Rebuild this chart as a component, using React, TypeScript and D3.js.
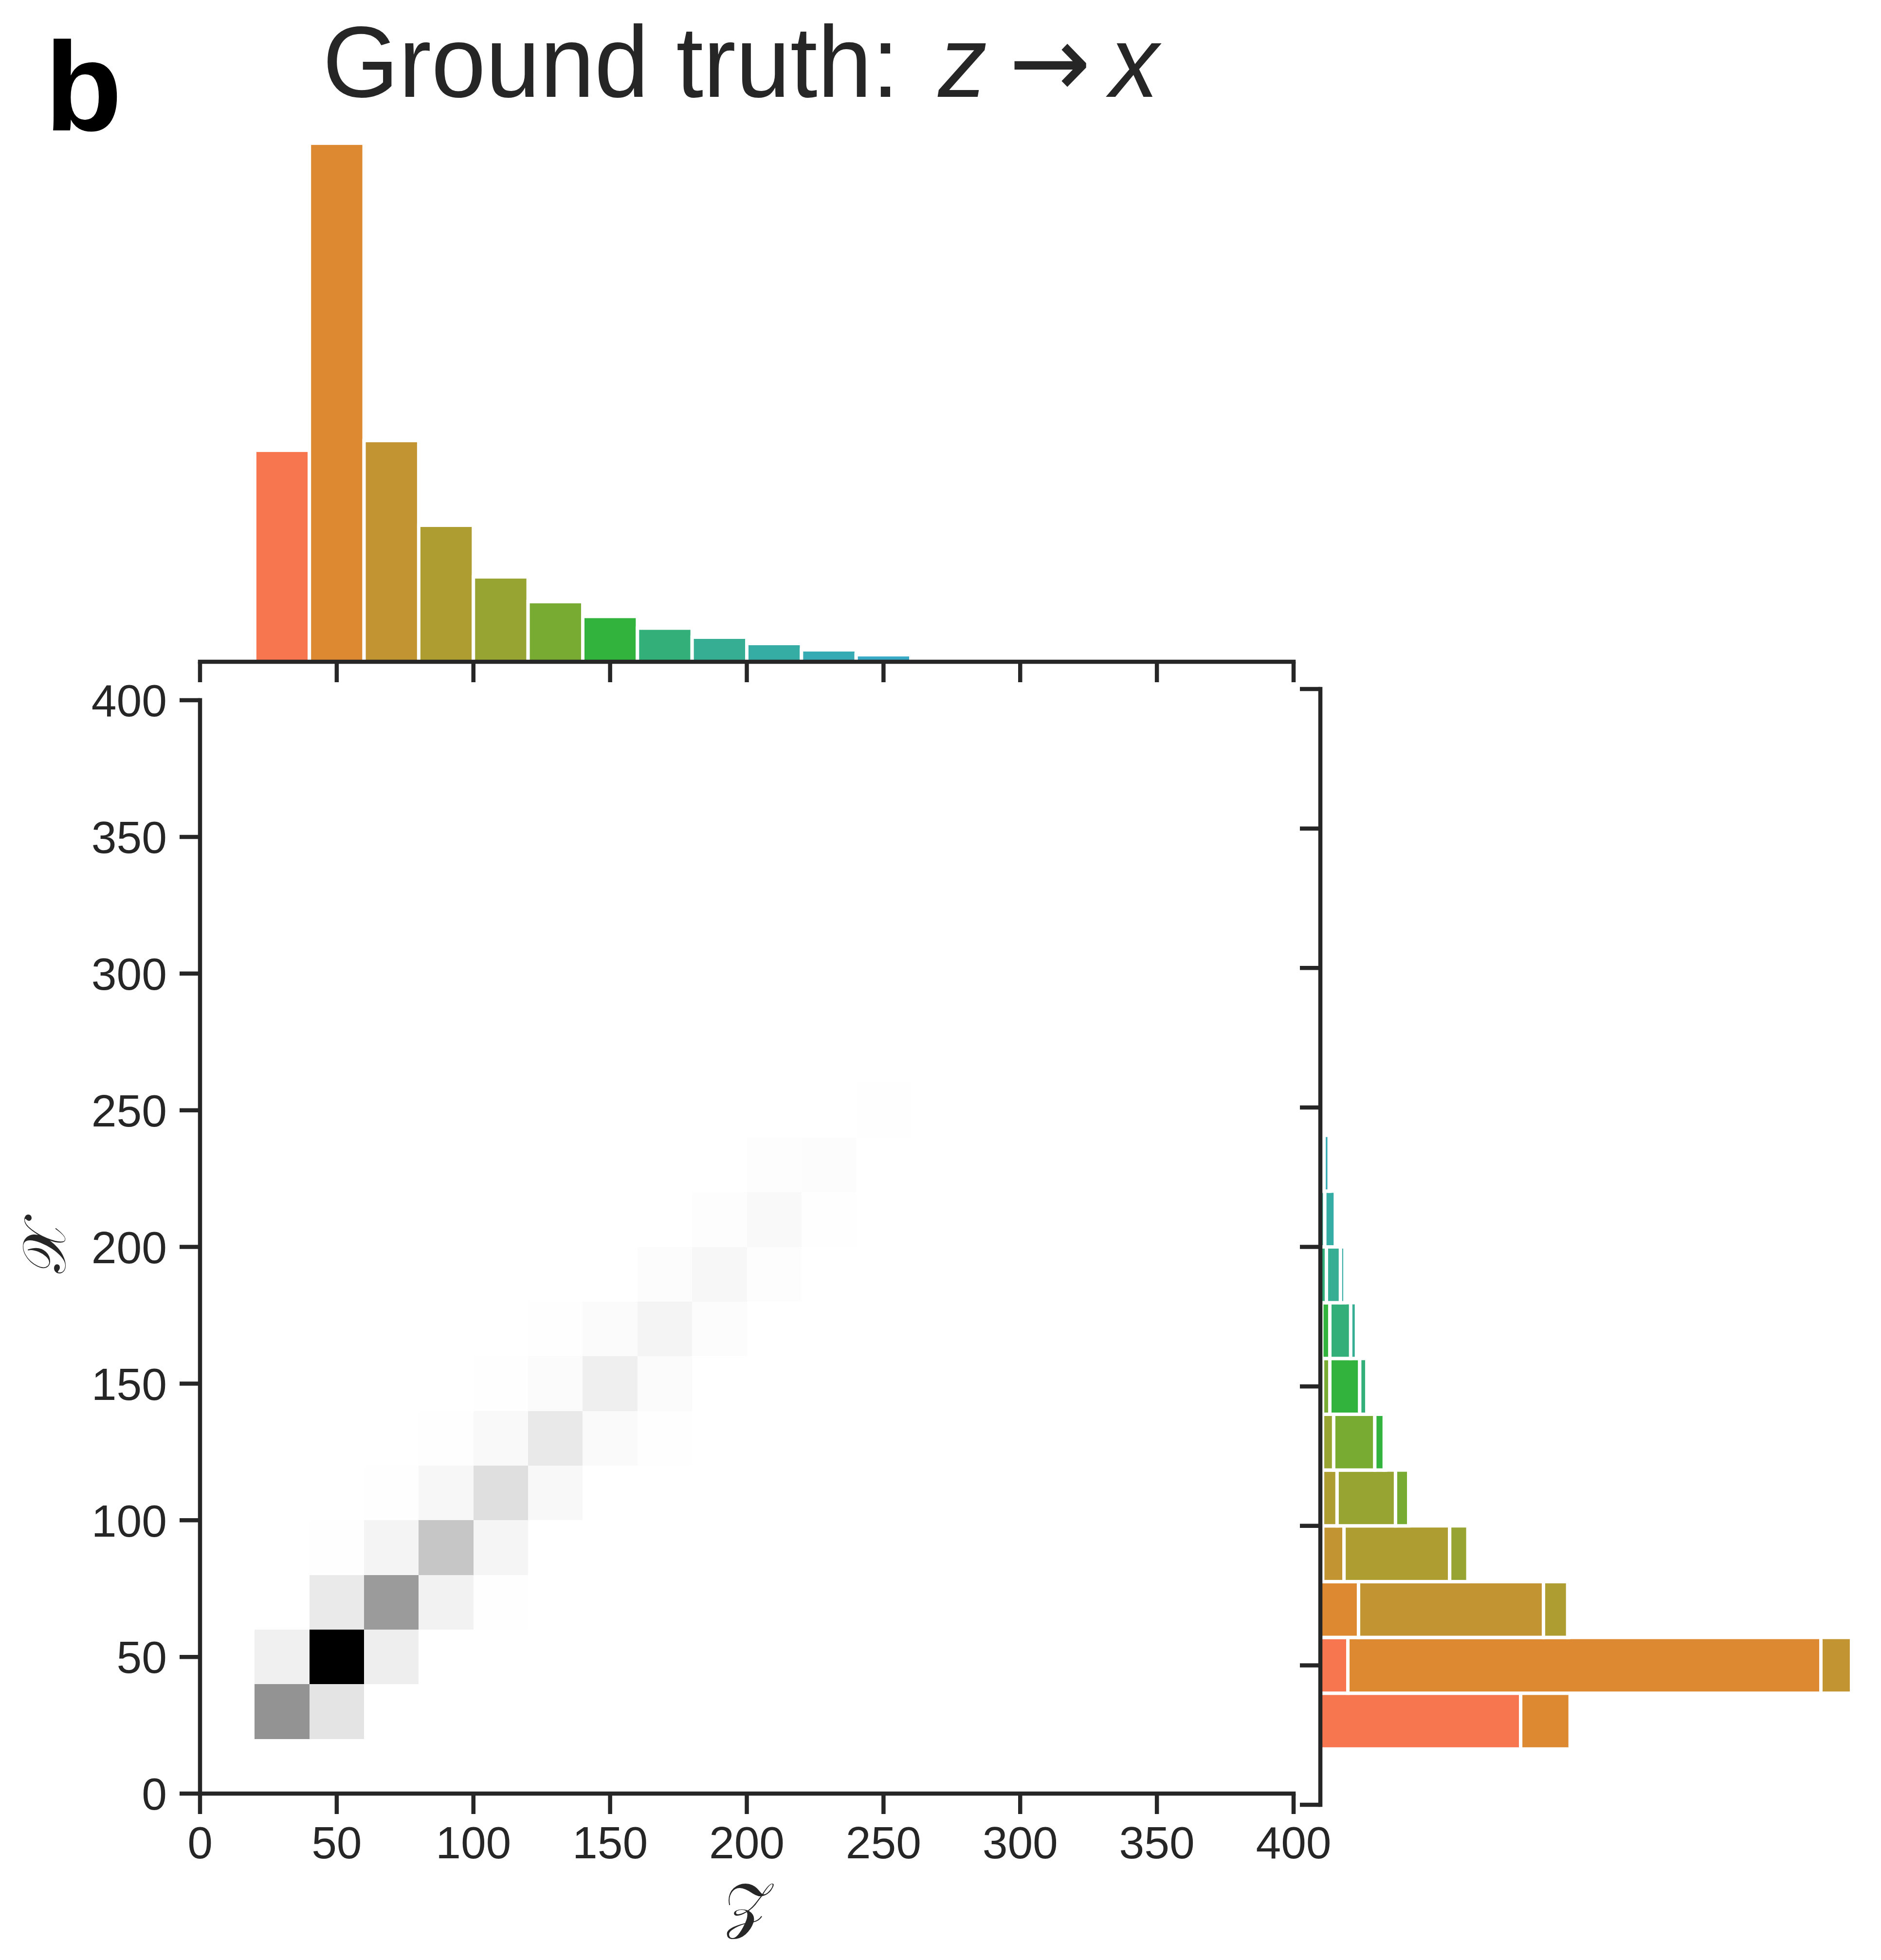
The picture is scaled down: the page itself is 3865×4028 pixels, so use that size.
import React from 'react'
import * as d3 from 'd3'

// histogram bins (width 20) that hold any mass
const binStarts = [20, 40, 60, 80, 100, 120, 140, 160, 180, 200, 220, 240]
const binWidth = 20
const axisTicks = [0, 50, 100, 150, 200, 250, 300, 350, 400]
const tickLabels = ['0', '50', '100', '150', '200', '250', '300', '350', '400']

// top marginal: counts per z bin
const zCounts = [154.0, 377.6, 161.1, 99.4, 61.8, 43.8, 33.0, 24.5, 17.9, 13.3, 8.7, 5.1]

// joint counts, one row per x bin (20-40 first), one column per z bin
const joint = [
    [135.4, 33.4, 0, 0, 0, 0, 0, 0, 0, 0, 0, 0],
    [18.6, 319.7, 20.7, 0, 0, 0, 0, 0, 0, 0, 0, 0],
    [0, 25.8, 125.0, 16.4, 0.8, 0, 0, 0, 0, 0, 0, 0],
    [0, 1.6, 14.4, 71.4, 12.3, 0, 0, 0, 0, 0, 0, 0],
    [0, 0, 1.5, 9.8, 39.5, 8.9, 0, 0, 0, 0, 0, 0],
    [0, 0, 0, 1.5, 7.5, 27.8, 6.4, 1.0, 0, 0, 0, 0],
    [0, 0, 0, 0, 1.5, 4.9, 20.2, 4.8, 0, 0, 0, 0],
    [0, 0, 0, 0, 0, 1.0, 5.4, 14.1, 3.9, 0, 0, 0],
    [0, 0, 0, 0, 0, 0, 0, 4.1, 9.5, 3.0, 0, 0],
    [0, 0, 0, 0, 0, 0, 0, 0, 3.0, 7.2, 1.3, 0],
    [0, 0, 0, 0, 0, 0, 0, 0, 0, 2.5, 3.5, 0.5],
    [0, 0, 0, 0, 0, 0, 0, 0, 0, 0, 0.6, 0.8],
]

const W = 3865
const H = 4028
const ink = '#262626'
const lw = 8.5
const tickLen = 42
const fontSans = '"Liberation Sans", Arial, Helvetica, sans-serif'

// seaborn style husl palette (old husl conversion)
const M = [[3.2406, -1.5372, -0.4986], [-0.9689, 1.8758, 0.0415], [0.0557, -0.2040, 1.0570]]
const refU = 0.19783940212
const refV = 0.46834220638

const maxChroma = (L: number, Hd: number) => {
    const hrad = Hd / 180 * Math.PI
    const sinH = Math.sin(hrad)
    const cosH = Math.cos(hrad)
    const sub1 = Math.pow(L + 16, 3) / 1560896
    const sub2 = sub1 > 0.008856 ? sub1 : L / 903.3
    let result = Infinity
    for (const [m1, m2, m3] of M) {
        const top = (0.99915 * m1 + 1.05122 * m2 + 1.14460 * m3) * sub2
        const rbottom = 0.86330 * m3 - 0.17266 * m2
        const lbottom = 0.12949 * m3 - 0.38848 * m1
        const bottom = (rbottom * sinH + lbottom * cosH) * sub2
        for (const t of [0, 1]) {
            const C = L * (top - 1.05122 * t) / (bottom + 0.17266 * sinH * t)
            if (C > 0 && C < result) result = C
        }
    }
    return result
}

const huslToHex = (Hd: number, S: number, L: number) => {
    const C = maxChroma(L, Hd) / 100 * S
    const hrad = Hd / 180 * Math.PI
    const U = Math.cos(hrad) * C
    const V = Math.sin(hrad) * C
    const t = (L + 16) / 116
    const Y = Math.pow(t, 3) > 0.008856 ? Math.pow(t, 3) : (116 * t - 16) / 903.3
    const varU = U / (13 * L) + refU
    const varV = V / (13 * L) + refV
    const X = -(9 * Y * varU) / ((varU - 4) * varV - varU * varV)
    const Z = (9 * Y - 15 * varV * Y - varV * X) / (3 * varV)
    const rgb = M.map(r => r[0] * X + r[1] * Y + r[2] * Z)
        .map(c => (c <= 0.0031308 ? 12.92 * c : 1.055 * Math.pow(c, 1 / 2.4) - 0.055))
        .map(c => Math.max(0, Math.min(1, c)) * 255)
    return d3.rgb(rgb[0], rgb[1], rgb[2]).formatHex()
}

// 20 colours over 0..400, one per bin of width 20
const binColor = (start: number) => {
    const k = start / binWidth
    const hue = ((k / 20 + 0.01) % 1) * 359
    return huslToHex(hue, 0.9 * 99, 0.65 * 99)
}

const App = () => {
    // main joint axes
    const x = d3.scaleLinear().domain([0, 400]).range([411, 2658])
    const y = d3.scaleLinear().domain([0, 400]).range([3686, 1439])

    // top marginal
    const topBase = 1360
    const topY = d3.scaleLinear().domain([0, 1.05 * d3.max(zCounts)!]).range([topBase, topBase - 1119])

    // right marginal
    const rightLeft = 2713
    const rowTotals = joint.map(r => d3.sum(r))
    const rY = d3.scaleLinear().domain([0, 400]).range([3709, 1416])
    const rX = d3.scaleLinear().domain([0, 1.05 * d3.max(rowTotals)!]).range([rightLeft, rightLeft + 1146])

    const maxJoint = d3.max(joint.flat())!
    const grey = d3.scaleLinear<string>().domain([0, maxJoint]).range(['#ffffff', '#000000'])

    const keys = binStarts.map((_, j) => j)
    const rows = joint.map(r => {
        const o: { [k: number]: number } = {}
        r.forEach((v, j) => { o[j] = v })
        return o
    })
    const stacked = d3.stack<{ [k: number]: number }, number>().keys(keys)(rows)

    const tickFs = 93

    return (
        <svg width={W} height={H} style={{ position: 'absolute', left: 0, top: 0, background: '#fff' }}>
            <rect x={0} y={0} width={W} height={H} fill="#fff" />

            {/* heatmap */}
            <g shapeRendering="crispEdges">
                {joint.map((r, i) => r.map((v, j) => v > 0 ? (
                    <rect key={`c-${i}-${j}`}
                          x={x(binStarts[j])}
                          y={y(binStarts[i] + binWidth)}
                          width={x(binStarts[j] + binWidth) - x(binStarts[j])}
                          height={y(binStarts[i]) - y(binStarts[i] + binWidth)}
                          fill={grey(v)} />
                ) : null))}
            </g>

            {/* top marginal histogram */}
            <g>
                {zCounts.map((c, j) => (
                    <rect key={`t-${j}`}
                          x={x(binStarts[j])}
                          y={topY(c)}
                          width={x(binStarts[j] + binWidth) - x(binStarts[j])}
                          height={topY(0) - topY(c)}
                          fill={binColor(binStarts[j])}
                          stroke="#fff" strokeWidth={7} />
                ))}
            </g>

            {/* right marginal, stacked by z bin */}
            <g>
                {stacked.map((layer, j) => layer.map((d, i) => d[1] - d[0] > 0 ? (
                    <rect key={`r-${j}-${i}`}
                          x={rX(d[0])}
                          y={rY(binStarts[i] + binWidth)}
                          width={rX(d[1]) - rX(d[0])}
                          height={rY(binStarts[i]) - rY(binStarts[i] + binWidth)}
                          fill={binColor(binStarts[j])}
                          stroke="#fff" strokeWidth={7} />
                ) : null))}
            </g>

            {/* main axes */}
            <g stroke={ink} strokeWidth={lw} fill="none">
                <line x1={x(0)} x2={x(400)} y1={y(0)} y2={y(0)} strokeLinecap="square" />
                <line x1={x(0)} x2={x(0)} y1={y(0)} y2={y(400)} strokeLinecap="square" />
                {axisTicks.map(t => (
                    <line key={`xt-${t}`} x1={x(t)} x2={x(t)} y1={y(0)} y2={y(0) + tickLen} />
                ))}
                {axisTicks.map(t => (
                    <line key={`yt-${t}`} x1={x(0) - tickLen} x2={x(0)} y1={y(t)} y2={y(t)} />
                ))}
                {/* top marginal axis */}
                <line x1={x(0)} x2={x(400)} y1={topBase} y2={topBase} strokeLinecap="square" />
                {axisTicks.map(t => (
                    <line key={`tt-${t}`} x1={x(t)} x2={x(t)} y1={topBase} y2={topBase + tickLen} />
                ))}
                {/* right marginal axis */}
                <line x1={rightLeft} x2={rightLeft} y1={rY(0)} y2={rY(400)} strokeLinecap="square" />
                {axisTicks.map(t => (
                    <line key={`rt-${t}`} x1={rightLeft - tickLen} x2={rightLeft} y1={rY(t)} y2={rY(t)} />
                ))}
            </g>

            {/* tick labels */}
            <g fill={ink} fontFamily={fontSans} fontSize={tickFs}>
                {axisTicks.map((t, k) => (
                    <text key={`xl-${t}`} x={x(t)} y={3819} textAnchor="middle">{tickLabels[k]}</text>
                ))}
                {axisTicks.map((t, k) => (
                    <text key={`yl-${t}`} x={343} y={y(t) + 0.358 * tickFs} textAnchor="end">{tickLabels[k]}</text>
                ))}
            </g>

            {/* axis labels */}
            <text x={1536} y={3958} textAnchor="middle" fontSize={125} fill={ink}
                  fontFamily='"DejaVu Sans", "DejaVu Serif", serif'>𝒵</text>
            <text transform={`translate(134, ${(y(0) + y(400)) / 2}) rotate(-90)`} textAnchor="middle"
                  fontSize={125} fill={ink} fontFamily='"DejaVu Sans", "DejaVu Serif", serif'>𝒳</text>

            {/* title */}
            <text transform="translate(663, 199) scale(0.971, 1)" fontSize={207} fill={ink} fontFamily={fontSans}>
                Ground truth:
                <tspan dx={83} fontStyle="italic">z</tspan>
                <tspan dx={46} fontFamily='"DejaVu Sans", sans-serif'>→</tspan>
                <tspan dx={40} fontStyle="italic">x</tspan>
            </text>

            {/* panel letter */}
            <text x={92} y={268} fontSize={260} fontWeight="bold" fill="#000" fontFamily={fontSans}>b</text>
        </svg>
    )
}

export default App
